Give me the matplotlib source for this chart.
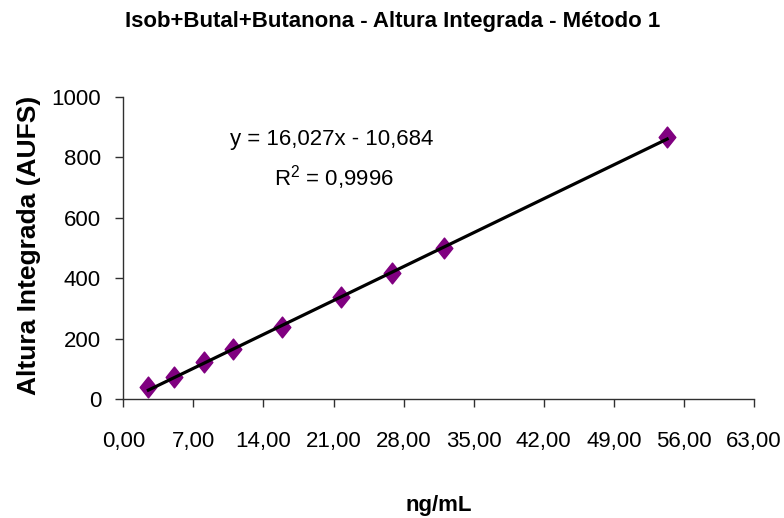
import numpy as np
import matplotlib
matplotlib.use("Agg")
import matplotlib.pyplot as plt
from matplotlib.path import Path
from matplotlib.ticker import FuncFormatter, MultipleLocator

# calibration points: concentration (ng/mL) vs integrated height (AUFS)
conc = [2.5, 5.06, 8.05, 10.92, 15.9, 21.7, 26.85, 32.04, 54.33]
height = [40.7, 73.8, 123, 164, 237, 336, 416, 500, 866]

# linear trendline as reported
SLOPE = 16.027
INTERCEPT = -10.684
R2 = 0.9996

TITLE = 'Isob+Butal+Butanona - Altura Integrada - Método 1'
XLABEL = 'ng/mL'
YLABEL = 'Altura Integrada (AUFS)'

plt.rcParams['font.family'] = ['Liberation Sans', 'DejaVu Sans']


def comma(v, nd):
  return ('%.*f' % (nd, v)).replace('.', ',')


def main():
  fig = plt.figure(figsize=(7.84, 5.18), dpi=100)
  ax = fig.add_axes([0.1573, 0.2297, 0.8044, 0.5836])

  # diamond a bit taller than wide
  diamond = Path([(0, 1), (0.8, 0), (0, -1), (-0.8, 0), (0, 1)],
                 [Path.MOVETO, Path.LINETO, Path.LINETO, Path.LINETO, Path.CLOSEPOLY])

  xf = np.array([min(conc), max(conc)])
  ax.plot(xf, SLOPE * xf + INTERCEPT, color='black', lw=2.3, zorder=3)
  ax.plot(conc, height, ls='none', marker=diamond, ms=15, color='#800080',
          mec='#800080', zorder=2)

  ax.set_xlim(0, 63)
  ax.set_ylim(0, 1000)
  ax.xaxis.set_major_locator(MultipleLocator(7))
  ax.yaxis.set_major_locator(MultipleLocator(200))
  ax.xaxis.set_major_formatter(FuncFormatter(lambda v, p: comma(v, 2)))
  ax.yaxis.set_major_formatter(FuncFormatter(lambda v, p: '%d' % v))

  for s in ('top', 'right'):
    ax.spines[s].set_visible(False)
  for s in ('left', 'bottom'):
    ax.spines[s].set_color('#303030')
    ax.spines[s].set_linewidth(1.0)
  ax.tick_params(axis='x', direction='out', length=6, width=1, color='#303030',
                 pad=17, labelsize=16)
  ax.tick_params(axis='y', direction='out', length=6, width=1, color='#303030',
                 pad=10, labelsize=16)

  fig.text(332 / 784, 1 - 140 / 518, 'y = %sx - %s' % (comma(SLOPE, 3), comma(-INTERCEPT, 3)),
           ha='center', va='center', fontsize=16)
  fig.text(334 / 784, 1 - 178 / 518, r'R$^{\mathregular{2}}$ = %s' % comma(R2, 4),
           ha='center', va='center', fontsize=16)

  fig.text(393 / 784, 1 - 21 / 518, TITLE, ha='center', va='center',
           fontsize=16, fontweight='bold')
  fig.text(439 / 784, 1 - 505 / 518, XLABEL, ha='center', va='center',
           fontsize=16, fontweight='bold')
  fig.text(29 / 784, 1 - 245 / 518, YLABEL, ha='center', va='center',
           rotation=90, fontsize=19, fontweight='bold')

  fig.savefig('out.png', dpi=100)


if __name__ == '__main__':
  main()
